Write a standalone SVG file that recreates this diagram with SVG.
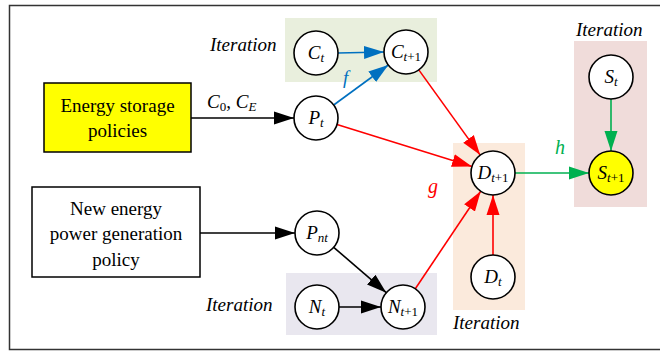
<svg xmlns="http://www.w3.org/2000/svg" width="660" height="352" viewBox="0 0 660 352">
<style>
text{font-family:Liberation Serif,Tinos,DejaVu Serif,Times New Roman,serif;}
.node circle{fill:#fff;stroke:#000;stroke-width:1.6;}
.lbl{font-size:19px;font-style:italic;text-anchor:middle;}
.sub{font-size:13px;}
.it{font-size:19px;font-style:italic;}
.box{stroke:#000;stroke-width:1.5;}
.btxt{font-size:19px;text-anchor:middle;}
.k{stroke:#000;stroke-width:1.6;fill:none;marker-end:url(#mk);}
.b{stroke:#0070C0;stroke-width:1.6;fill:none;marker-end:url(#mb);}
.r{stroke:#FF0000;stroke-width:1.6;fill:none;marker-end:url(#mr);}
.g{stroke:#00B050;stroke-width:1.6;fill:none;marker-end:url(#mg);}
</style>
<defs>
<marker id="mk" markerUnits="userSpaceOnUse" markerWidth="21" markerHeight="14" refX="20" refY="7" orient="auto"><path d="M0,0.5 L20,7 L0,13.5 z" fill="#000"/></marker>
<marker id="mb" markerUnits="userSpaceOnUse" markerWidth="21" markerHeight="14" refX="20" refY="7" orient="auto"><path d="M0,0.5 L20,7 L0,13.5 z" fill="#0070C0"/></marker>
<marker id="mr" markerUnits="userSpaceOnUse" markerWidth="21" markerHeight="14" refX="20" refY="7" orient="auto"><path d="M0,0.5 L20,7 L0,13.5 z" fill="#FF0000"/></marker>
<marker id="mg" markerUnits="userSpaceOnUse" markerWidth="21" markerHeight="14" refX="20" refY="7" orient="auto"><path d="M0,0.5 L20,7 L0,13.5 z" fill="#00B050"/></marker>
</defs>
<rect x="0" y="0" width="660" height="352" fill="#fff"/>
<rect x="9.5" y="5.5" width="660" height="344" fill="none" stroke="#333" stroke-width="1.5"/>

<g id="iter-C">
<rect x="285" y="18" width="152" height="64" fill="#E9EFDD"/>
<text class="it" x="210" y="51">Iteration</text>
</g>
<g id="iter-N">
<rect x="286" y="273" width="151" height="62" fill="#E9E7EF"/>
<text class="it" x="206" y="311">Iteration</text>
</g>
<g id="iter-D">
<rect x="453" y="143" width="72" height="167" fill="#FBEADC"/>
<text class="it" x="453" y="329">Iteration</text>
</g>
<g id="iter-S">
<rect x="574" y="41" width="73" height="166" fill="#F0DCDA"/>
<text class="it" x="576" y="36">Iteration</text>
</g>

<g id="connectors">
<line class="k" x1="191" y1="118" x2="294" y2="118"/>
<line class="k" x1="200" y1="233" x2="295" y2="233"/>
<line class="k" x1="333.7" y1="247.3" x2="386.3" y2="292.7"/>
<line class="k" x1="339" y1="307" x2="381" y2="307"/>
<line class="b" x1="338" y1="53" x2="384" y2="52"/>
<line class="b" x1="333.7" y1="105" x2="388.3" y2="65"/>
<line class="r" x1="418.8" y1="69.9" x2="480.2" y2="155.1"/>
<line class="r" x1="337" y1="124.5" x2="472" y2="166.5"/>
<line class="r" x1="415.3" y1="288.7" x2="480.7" y2="191.3"/>
<line class="r" x1="493" y1="255" x2="493" y2="195"/>
<line class="g" x1="515" y1="173" x2="589" y2="173"/>
<line class="g" x1="611" y1="99" x2="611" y2="151"/>
<text x="207" y="108" style="font-size:19px;font-style:italic">C<tspan class="sub" style="font-style:normal" dy="3">0</tspan><tspan dy="-3" style="font-style:normal">, </tspan>C<tspan class="sub" dy="3">E</tspan></text>
<text x="343" y="84" style="font-size:19px;font-style:italic;fill:#0070C0">f</text>
<text x="428" y="193" style="font-size:20px;font-style:italic;fill:#FF0000">g</text>
<text x="555" y="154" style="font-size:20px;font-style:italic;fill:#00B050">h</text>
</g>

<g id="energy-storage">
<rect class="box" x="44" y="83" width="147" height="69" fill="#FFFF00"/>
<text class="btxt" x="117.5" y="112">Energy storage</text>
<text class="btxt" x="117.5" y="137">policies</text>
</g>
<g id="new-energy">
<rect class="box" x="32" y="187" width="168" height="90" fill="#fff"/>
<text class="btxt" x="116" y="215">New energy</text>
<text class="btxt" x="116" y="240">power generation</text>
<text class="btxt" x="116" y="266">policy</text>
</g>

<g id="Ct" class="node"><circle cx="316" cy="53" r="22"/><text class="lbl" x="316" y="59">C<tspan class="sub" dy="3">t</tspan></text></g>
<g id="Ct1" class="node"><circle cx="406" cy="52" r="22"/><text class="lbl" x="406" y="58">C<tspan class="sub" dy="3">t</tspan><tspan class="sub" style="font-style:normal">+1</tspan></text></g>
<g id="Pt" class="node"><circle cx="316" cy="118" r="22"/><text class="lbl" x="316" y="124">P<tspan class="sub" dy="3">t</tspan></text></g>
<g id="Pnt" class="node"><circle cx="317" cy="233" r="22"/><text class="lbl" x="317" y="239">P<tspan class="sub" dy="3">nt</tspan></text></g>
<g id="Nt" class="node"><circle cx="317" cy="307" r="22"/><text class="lbl" x="317" y="313">N<tspan class="sub" dy="3">t</tspan></text></g>
<g id="Nt1" class="node"><circle cx="403" cy="307" r="22"/><text class="lbl" x="403" y="313">N<tspan class="sub" dy="3">t</tspan><tspan class="sub" style="font-style:normal">+1</tspan></text></g>
<g id="Dt1" class="node"><circle cx="493" cy="173" r="22"/><text class="lbl" x="493" y="179">D<tspan class="sub" dy="3">t</tspan><tspan class="sub" style="font-style:normal">+1</tspan></text></g>
<g id="Dt" class="node"><circle cx="493" cy="277" r="22"/><text class="lbl" x="493" y="283">D<tspan class="sub" dy="3">t</tspan></text></g>
<g id="St" class="node"><circle cx="611" cy="77" r="22"/><text class="lbl" x="611" y="83">S<tspan class="sub" dy="3">t</tspan></text></g>
<g id="St1" class="node"><circle cx="611" cy="173" r="22" style="fill:#FFFF00"/><text class="lbl" x="611" y="179">S<tspan class="sub" dy="3">t</tspan><tspan class="sub" style="font-style:normal">+1</tspan></text></g>
</svg>
